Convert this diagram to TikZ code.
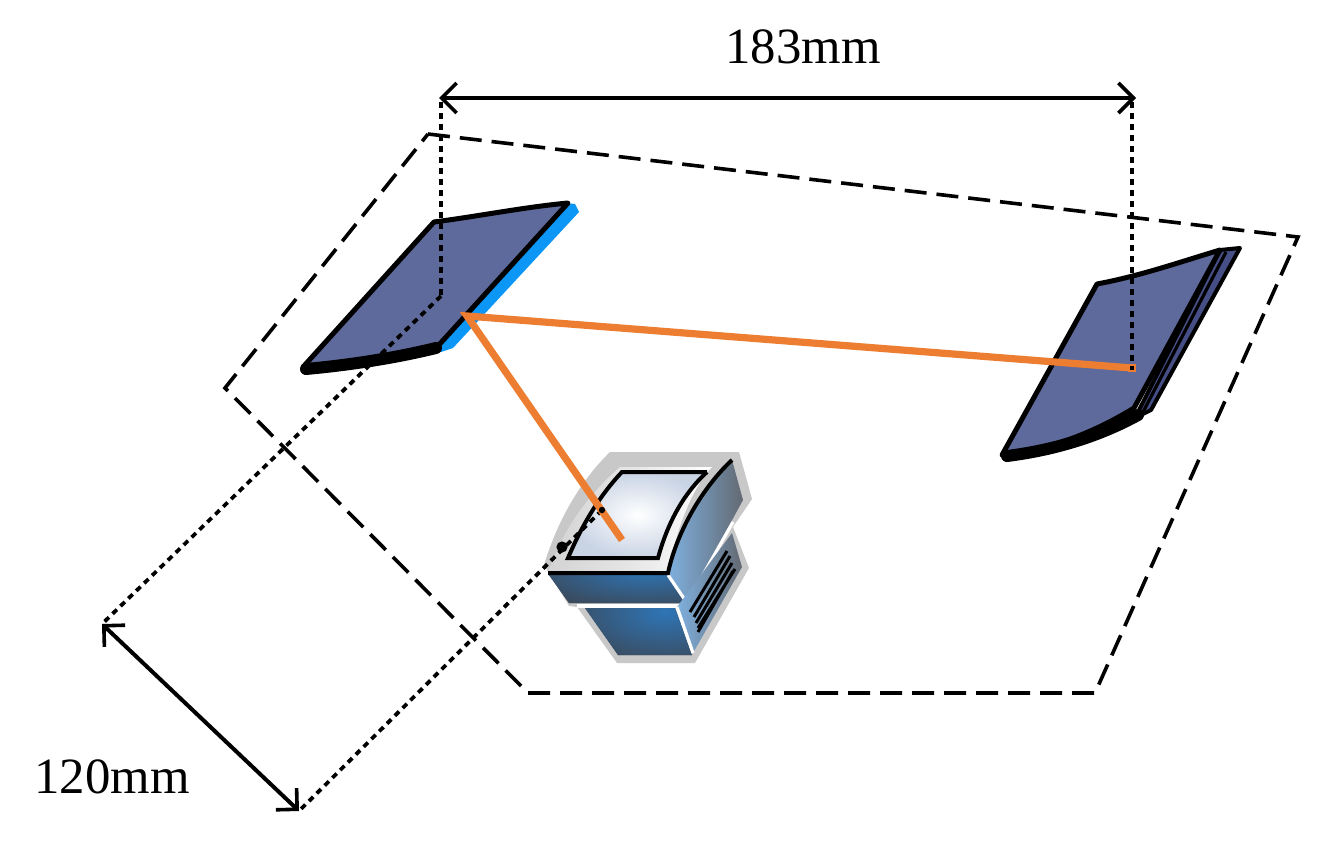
\documentclass[tikz,border=0pt]{standalone}
\usepackage{fontspec}
\setmainfont{Liberation Serif}
\usetikzlibrary{arrows.meta,calc}
\definecolor{panelblue}{HTML}{5F6A9C}
\definecolor{stripeblue}{HTML}{454E85}
\definecolor{edgeblue}{HTML}{0C96F5}
\definecolor{beam}{HTML}{ED7D31}
\definecolor{halo}{HTML}{C8C8C8}
\definecolor{darkslate}{HTML}{3C4450}
\definecolor{midblue}{HTML}{2E75B6}
\definecolor{lightblue}{HTML}{7FB0DE}
\definecolor{screenedge}{HTML}{C8D3E4}
\tikzset{
  dimarrow/.style={line width=2pt,{Straight Barb[length=7.5pt,width=15pt,line width=1.8pt]}-{Straight Barb[length=7.5pt,width=15pt,line width=1.8pt]}},
  guide/.style={line width=2.2pt,dash pattern=on 3pt off 2.5pt},
  area/.style={line width=1.8pt,dash pattern=on 11pt off 5pt},
  ray/.style={beam,line width=3.6pt},
  mirror/.style={fill=panelblue,draw=black,line width=2.5pt,line join=round},
  band/.style={black,line width=6pt,line cap=round},
  label/.style={font=\fontsize{25.4}{30}\selectfont,inner sep=0pt}
}
\begin{document}
\begin{tikzpicture}[x=0.5pt,y=-0.5pt]
\useasboundingbox (0,0) rectangle (1321,850);
% named points
\coordinate (A1) at (428,134);\coordinate (A2) at (1298,237);\coordinate (A3) at (1095,693);
\coordinate (A4) at (528,693);\coordinate (A5) at (225,388);
\coordinate (T1) at (439,98);\coordinate (T2) at (1136,98);
\coordinate (G1) at (441,102);\coordinate (G2) at (1132,102);
\coordinate (M1) at (441,296);\coordinate (M2) at (1132,368);
\coordinate (L1) at (102,624);\coordinate (L2) at (299,811);
\coordinate (C1) at (602,510);\coordinate (C2) at (562,547);
\coordinate (R0) at (467,316);\coordinate (R1) at (622,540);
% monitor silhouette
\fill[halo] (610,452) -- (739,452) -- (752,499) -- (733,527) -- (749,568) -- (695,663) -- (617,663) -- (577,607) -- (569,606) -- (544,565) .. controls (556,525) and (578,483) .. (610,452) -- cycle;
% top shell
\shade[left color=halo!80!white,right color=white,middle color=white!90!black] (548,573) .. controls (562,530) and (588,495) .. (620,467) -- (712,467) .. controls (690,490) and (675,535) .. (668,573) -- cycle;
% screen
\shade[inner color=white,outer color=screenedge] (622,472) -- (707,472) .. controls (682,495) and (667,525) .. (658,558) -- (568,558) .. controls (582,525) and (600,495) .. (622,472) -- cycle;
\draw[line width=2pt,line join=miter] (707,472) -- (622,472) .. controls (600,495) and (582,525) .. (568,558) -- (658,558) .. controls (667,525) and (682,495) .. (707,472);
% right upper panel
\shade[left color=lightblue,right color=darkslate!80!white] (668,573) .. controls (676,535) and (700,490) .. (732,460) -- (743,500) -- (687,603) -- cycle;
% upper front
\fill[darkslate] (549,575) -- (668,575) -- (686,603) -- (569,603) -- cycle;
\begin{scope}
\clip (549,575) -- (668,575) -- (686,603) -- (569,603) -- cycle;
\shade[inner color=midblue,outer color=darkslate] (645,570) ellipse [x radius=70pt,y radius=22pt];
\end{scope}
\draw[white,line width=1.6pt] (668,575) -- (687,603) -- (733,522);
\draw[white,line width=1.6pt] (577,606) -- (686,606);
\draw[black,line width=2pt] (548,573) -- (668,573) .. controls (676,535) and (700,490) .. (732,460);
% lower front
\fill[darkslate] (585,608) -- (675,608) -- (692,655) -- (618,655) -- cycle;
\begin{scope}
\clip (585,608) -- (675,608) -- (692,655) -- (618,655) -- cycle;
\shade[inner color=midblue,outer color=darkslate] (665,612) ellipse [x radius=60pt,y radius=30pt];
\end{scope}
\shade[left color=lightblue,right color=darkslate!80!white] (677,607) -- (732,533) -- (742,567) -- (693,653) -- cycle;
\draw[white,line width=1.6pt] (677,607) -- (693,653);
\draw[line width=1.5pt] (690,612) -- (727,551) (694,617) -- (730,556) (696,623) -- (732,563) (698,628) -- (735,569) (698,632) -- (733,571);
% left mirror
\fill[edgeblue] (566,203) -- (575,204) -- (579,212) -- (453,348) -- (441,352) -- (437,346) -- cycle;
\draw[mirror] (434,222) .. controls (480,216) and (525,207) .. (568,203) -- (437,347) .. controls (395,358) and (350,365) .. (303,367) -- cycle;
\draw[band] (306,369) .. controls (350,365) and (395,358) .. (436,348);
% right mirror
\draw[fill=stripeblue,line width=2pt,line join=round] (1220,250) -- (1240,248) -- (1151,410) -- (1135,418) -- cycle;
\draw[line width=1.6pt] (1226,252) -- (1143,412);
\draw[mirror] (1097,284) .. controls (1140,276) and (1180,262) .. (1220,250) -- (1134,408) .. controls (1095,432) and (1050,450) .. (1002,455) -- cycle;
\draw[band] (1007,456) .. controls (1055,450) and (1100,436) .. (1138,415);
% dashed area
\draw[area] (A1) -- (A2) -- (A3) -- (A4) -- (A5) -- cycle;
% guides
\draw[guide] (G1) -- (M1);
\draw[guide] (G2) -- (M2);
\draw[guide,line width=1.9pt] (M1) -- (L1);
\draw[guide,line width=1.9pt] (C1) -- (L2);
% rays
\draw[ray,line cap=butt,line join=miter] (M2) -- (R0) -- (R1);
\draw[beam,line width=1pt,fill=black] ($(M2)+(-3,-3)$) rectangle ($(M2)+(3,3)$);
\fill (C1) circle (1.6pt);
\fill (C2) circle (2.8pt);
% dimensions
\draw[dimarrow] (T1) -- (T2);
\draw[dimarrow] (L1) -- (L2);
\node[label] (w) at (803,47) {183mm};
\node[label] (h) at (112,777) {120mm};
\end{tikzpicture}
\end{document}
